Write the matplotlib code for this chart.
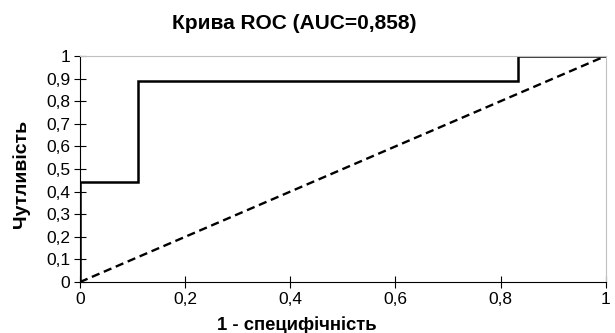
import matplotlib.pyplot as plt
from matplotlib.ticker import FuncFormatter

plt.rcParams['font.family'] = ['Liberation Sans', 'DejaVu Sans']

fpr = [0, 0, 0.111, 0.111, 0.833, 0.833, 1]
tpr = [0, 0.444, 0.444, 0.889, 0.889, 1, 1]
diag = [0, 1]
auc = 0.858

fig = plt.figure(figsize=(6.15, 3.33), dpi=100)
ax = fig.add_axes([0.130, 0.153, 0.855, 0.679])
ax.plot(fpr, tpr, color='black', lw=1.8, solid_joinstyle='miter')
ax.plot(diag, diag, color='black', lw=1.7, ls=(0, (3.5, 2)))
ax.set_xlim(0, 1)
ax.set_ylim(0, 1)
ax.set_xticks([0, 0.2, 0.4, 0.6, 0.8, 1])
ax.set_yticks([i / 10 for i in range(11)])
fmt = FuncFormatter(lambda v, p: ('%g' % round(v, 1)).replace('.', ','))
ax.xaxis.set_major_formatter(fmt)
ax.yaxis.set_major_formatter(fmt)
ax.tick_params(direction='inout', length=8, width=0.8, labelsize=12.5, pad=3)
for s in ['top', 'right']:
    ax.spines[s].set_color('#c0c0c0')
for s in ['left', 'bottom']:
    ax.spines[s].set_color('black')
    ax.spines[s].set_linewidth(0.8)
ax.set_xlabel('1 - специфічність', fontsize=13.3, fontweight='bold')
ax.xaxis.set_label_coords(0.412, -0.152)
ax.set_ylabel('Чутливість', fontsize=14, fontweight='bold')
ax.yaxis.set_label_coords(-0.095, 0.48)
fig.text(0.479, 0.93, 'Крива ROC (AUC=%s)' % str(auc).replace('.', ','),
         ha='center', va='center', fontsize=15, fontweight='bold')
plt.savefig('out.png', dpi=100)
